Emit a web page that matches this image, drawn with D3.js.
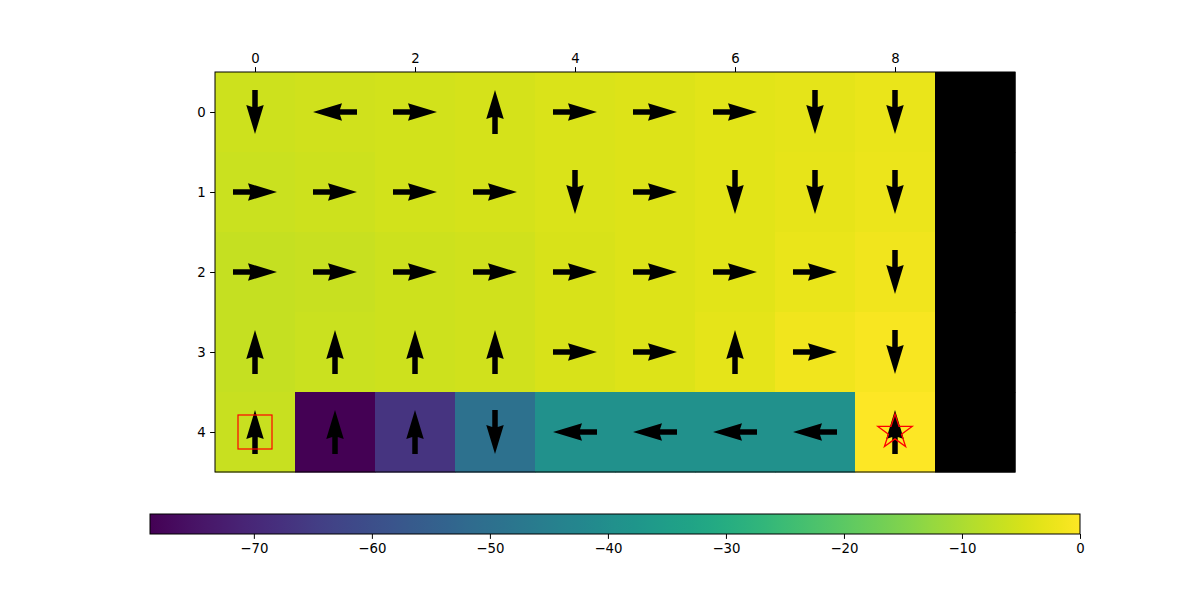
<!DOCTYPE html>
<html>
<head>
<meta charset="utf-8">
<script src="https://cdn.jsdelivr.net/npm/d3@7"></script>
<style>
  body { margin: 0; background: #fff; }
  svg { font-family: "DejaVu Sans", sans-serif; }
</style>
</head>
<body>
<svg id="chart" width="1200" height="600"></svg>
<script>
// grid columns / rows
var cols = [0, 1, 2, 3, 4, 5, 6, 7, 8, 9];
var rows = [0, 1, 2, 3, 4];
var xTicks = [0, 2, 4, 6, 8];
var yTicks = [0, 1, 2, 3, 4];
var cbTicks = [-70, -60, -50, -40, -30, -20, -10, 0];
var vmin = -78.8, vmax = 0;

// state values, one array per row (null = masked, drawn black)
var row0 = [-6.0, -5.8, -5.4, -5.0, -4.6, -4.1, -3.6, -3.1, -2.7, null];
var row1 = [-6.3, -6.0, -5.5, -5.1, -4.6, -4.1, -3.6, -3.0, -2.4, null];
var row2 = [-7.0, -6.5, -6.0, -5.6, -4.8, -4.2, -3.6, -2.7, -1.8, null];
var row3 = [-6.8, -6.3, -6.1, -5.7, -4.8, -4.2, -3.2, -1.8, -0.9, null];
var row4 = [-6.6, -78.8, -67.0, -49.8, -39.4, -39.4, -39.4, -39.4, 0, null];
var values = [row0, row1, row2, row3, row4];

// greedy action per cell: U D L R, "" = none
var act0 = ["D", "L", "R", "U", "R", "R", "R", "D", "D", ""];
var act1 = ["R", "R", "R", "R", "D", "R", "D", "D", "D", ""];
var act2 = ["R", "R", "R", "R", "R", "R", "R", "R", "D", ""];
var act3 = ["U", "U", "U", "U", "R", "R", "U", "R", "D", ""];
var act4 = ["U", "U", "U", "D", "L", "L", "L", "L", "U", ""];
var actions = [act0, act1, act2, act3, act4];

var start = {x: 0, y: 4};
var goal = {x: 8, y: 4};

var svg = d3.select("#chart");
var x = d3.scaleLinear().domain([-0.5, 9.5]).range([215, 1015]);
var y = d3.scaleLinear().domain([-0.5, 4.5]).range([72, 472]);
var color = d3.scaleSequential(d3.interpolateViridis).domain([vmin, vmax]);

var cells = [];
rows.forEach(function(r) {
    cols.forEach(function(c) {
        cells.push({r: r, c: c, v: values[r][c], a: actions[r][c]});
    });
});

var plot = svg.append("g");
plot.selectAll("rect.cell")
    .data(cells)
    .enter().append("rect")
    .attr("class", "cell")
    .attr("x", function(d) { return x(d.c - 0.5); })
    .attr("y", function(d) { return y(d.r - 0.5); })
    .attr("width", x(1) - x(0) + 0.5)
    .attr("height", y(1) - y(0) + 0.5)
    .attr("fill", function(d) { return d.v === null ? "#000" : color(d.v); });

// quiver-like arrows, pivot in the middle
var L = 44, w = 5.5, hl = 29, hal = 27, hw = 17.5;
var arrowPts = [
    [-L / 2, -w / 2], [L / 2 - hal, -w / 2], [L / 2 - hl, -hw / 2], [L / 2, 0],
    [L / 2 - hl, hw / 2], [L / 2 - hal, w / 2], [-L / 2, w / 2]
];
var angle = {R: 0, D: 90, L: 180, U: -90};
plot.selectAll("path.arrow")
    .data(cells.filter(function(d) { return d.a !== ""; }))
    .enter().append("path")
    .attr("class", "arrow")
    .attr("d", "M" + arrowPts.join("L") + "Z")
    .attr("fill", "#000")
    .attr("transform", function(d) {
        return "translate(" + x(d.c) + "," + y(d.r) + ") rotate(" + angle[d.a] + ")";
    });

// start and goal markers
plot.append("rect")
    .attr("x", x(start.x) - 17)
    .attr("y", y(start.y) - 17)
    .attr("width", 34)
    .attr("height", 34)
    .attr("fill", "none")
    .attr("stroke", "red")
    .attr("stroke-width", 1.2);

// five-point star like the matplotlib "*" marker
var R = 18, rIn = R * 0.382;
var starPts = d3.range(10).map(function(i) {
    var rad = i % 2 === 0 ? R : rIn;
    var a = -Math.PI / 2 + i * Math.PI / 5;
    return [rad * Math.cos(a), rad * Math.sin(a)];
});
plot.append("path")
    .attr("d", "M" + starPts.join("L") + "Z")
    .attr("transform", "translate(" + x(goal.x) + "," + y(goal.y) + ")")
    .attr("fill", "none")
    .attr("stroke", "red")
    .attr("stroke-width", 1.3);

// frame
svg.append("rect")
    .attr("x", 215).attr("y", 72)
    .attr("width", 800).attr("height", 400)
    .attr("fill", "none").attr("stroke", "#000").attr("stroke-width", 1);

var fmt = function(d) { return d3.format("d")(d).replace("-", "\u2212"); };

var xAxis = svg.append("g")
    .attr("transform", "translate(0,72)")
    .call(d3.axisTop(x).tickValues(xTicks).tickSize(4.9).tickPadding(4.5).tickFormat(fmt));
var yAxis = svg.append("g")
    .attr("transform", "translate(215,0)")
    .call(d3.axisLeft(y).tickValues(yTicks).tickSize(4.9).tickPadding(4.5).tickFormat(fmt));
[xAxis, yAxis].forEach(function(g) {
    g.select(".domain").remove();
    g.selectAll("text").attr("font-size", 13.3).attr("font-family", "DejaVu Sans").attr("fill", "#000");
    g.selectAll("line").attr("stroke", "#000");
});

// colorbar
var cb = svg.append("g");
var cx = d3.scaleLinear().domain([vmin, vmax]).range([150, 1080]);
var grad = svg.append("defs").append("linearGradient")
    .attr("id", "cbgrad")
    .attr("x1", "0%").attr("x2", "100%").attr("y1", "0%").attr("y2", "0%");
d3.range(0, 1.0001, 0.02).forEach(function(t) {
    grad.append("stop")
        .attr("offset", (t * 100) + "%")
        .attr("stop-color", d3.interpolateViridis(t));
});
cb.append("rect")
    .attr("x", 150).attr("y", 514)
    .attr("width", 930).attr("height", 20)
    .attr("fill", "url(#cbgrad)")
    .attr("stroke", "#000").attr("stroke-width", 1);
var cbAxis = cb.append("g")
    .attr("transform", "translate(0,534)")
    .call(d3.axisBottom(cx).tickValues(cbTicks).tickSize(4.9).tickPadding(4.5).tickFormat(fmt));
cbAxis.select(".domain").remove();
cbAxis.selectAll("text").attr("font-size", 13.3).attr("font-family", "DejaVu Sans").attr("fill", "#000");
cbAxis.selectAll("line").attr("stroke", "#000");
</script>
</body>
</html>
